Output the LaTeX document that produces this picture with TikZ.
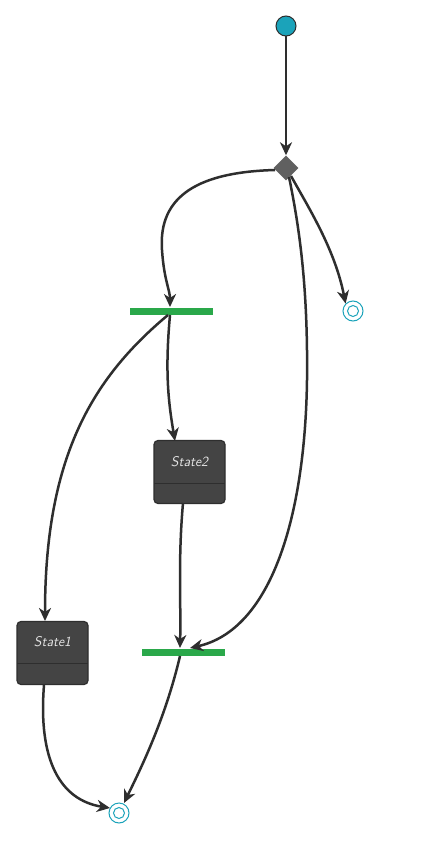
\documentclass[tikz,border=0pt]{standalone}
\usetikzlibrary{arrows.meta,shapes.geometric}
\definecolor{teal1}{HTML}{1BA3BA}
\definecolor{stbox}{HTML}{444444}
\definecolor{edge}{HTML}{2E2E2E}
\definecolor{bar}{HTML}{2AA84A}
\begin{document}
\begin{tikzpicture}[x=1pt,y=-1pt,
  conn/.style={draw=edge,line width=2.5pt,-{Stealth[length=13pt,width=12pt,inset=4pt]}},
  statebox/.style={draw=edge,line width=1.2pt,fill=stbox,rounded corners=4pt,minimum width=71pt,minimum height=63pt,inner sep=0pt},
  forkbar/.style={fill=bar,draw=none,minimum width=83pt,minimum height=7pt,inner sep=0pt},
  finalst/.style={circle,draw=teal1,line width=1pt,minimum size=20pt,inner sep=0pt},
  lbl/.style={text=white!90!black,font=\sffamily\itshape\fontsize{14}{16}\selectfont}]
\useasboundingbox (0,0) rectangle (442,843);
\fill[white] (0,0) rectangle (442,843);
% initial
\node[circle,fill=teal1,draw=edge,line width=1pt,minimum size=20pt,inner sep=0pt] (init) at (286,26) {};
% decision
\node[diamond,fill=gray!75!black,draw=none,minimum width=25pt,minimum height=25pt,inner sep=0pt] (dec) at (286,168) {};
% final right
\node[finalst] (finR) at (353,311) {};
\node[circle,draw=teal1,line width=1pt,minimum size=11pt,inner sep=0pt] at (353,311) {};
% fork
\node[forkbar] (fork) at (171,311) {};
% states
\node[statebox] (s2) at (189.5,472) {};
\draw[edge,line width=0.8pt] (154,483) -- (225,483);
\node[lbl] at (189.5,462) {State2};
\node[statebox] (s1) at (52.5,653) {};
\draw[edge,line width=0.8pt] (17,663) -- (88,663);
\node[lbl] at (52.5,642) {State1};
% join
\node[forkbar] (join) at (183,652) {};
% final bottom
\node[finalst] (finB) at (119,813) {};
\node[circle,draw=teal1,line width=1pt,minimum size=11pt,inner sep=0pt] at (119,813) {};
% connectors
\coordinate (d1) at (275,170);
\coordinate (d2) at (289,177);
\coordinate (d3) at (291,176);
\coordinate (f1) at (170,307);
\coordinate (f2) at (170,315);
\coordinate (f3) at (168,315);
\coordinate (j1) at (180,648);
\coordinate (j2) at (190,648);
\coordinate (j3) at (180,656);
\coordinate (s2t) at (175,441);
\coordinate (s2b) at (183,503);
\coordinate (s1t) at (45,621);
\coordinate (s1b) at (44,685);
\coordinate (b1) at (124,803);
\coordinate (b2) at (110,808);
\path[conn] (init.south) -- (dec.north);
\path[conn] (d1) .. controls (200,172) and (158,195) .. (162,250) .. controls (164,280) and (170,290) .. (f1);
\path[conn] (d3) .. controls (310,210) and (335,250) .. (finR.north west);
\path[conn] (d2) .. controls (300,230) and (308,290) .. (307,380) .. controls (305,520) and (270,630) .. (j2);
\path[conn] (f2) .. controls (165,370) and (168,400) .. (s2t);
\path[conn] (f3) .. controls (90,380) and (45,460) .. (s1t);
\path[conn] (s2b) .. controls (178,560) and (181,600) .. (j1);
\path[conn] (j3) .. controls (165,720) and (140,770) .. (b1);
\path[conn] (s1b) .. controls (38,760) and (60,800) .. (b2);
\end{tikzpicture}
\end{document}
